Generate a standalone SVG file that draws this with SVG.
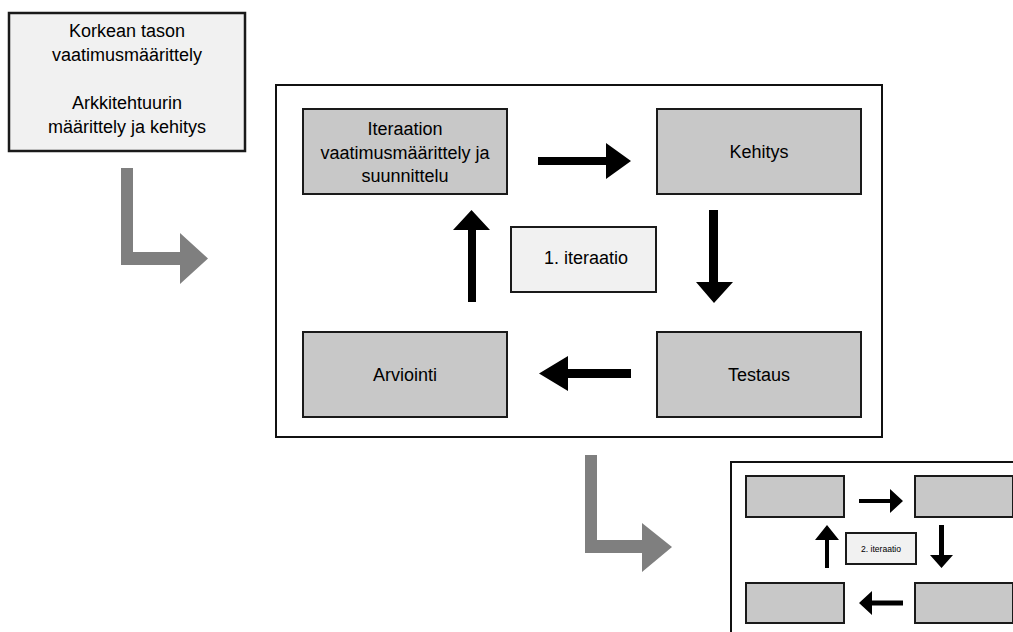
<svg xmlns="http://www.w3.org/2000/svg" width="1013" height="632" viewBox="0 0 1013 632">
  <style>
    .t { font-family: "Liberation Sans", Arial, sans-serif; fill: #000; text-anchor: middle; }
    .big { font-size: 18px; }
    .small { font-size: 8.6px; }
    .step { fill: #c8c8c8; stroke: #1a1a1a; stroke-width: 2; }
    .label { fill: #f1f1f1; stroke: #1a1a1a; stroke-width: 2; }
    .frame { fill: #ffffff; stroke: #111; stroke-width: 2; }
    .flow { fill: #000; }
    .bend { fill: #7f7f7f; }
  </style>

  <!-- overall phase box -->
  <g id="high-level">
    <rect x="9" y="13" width="236" height="138" fill="#f1f1f1" stroke="#1a1a1a" stroke-width="2.5"/>
    <text class="t big" x="127" y="37">Korkean tason</text>
    <text class="t big" x="127" y="61">vaatimusmäärittely</text>
    <text class="t big" x="127" y="109">Arkkitehtuurin</text>
    <text class="t big" x="127" y="133">määrittely ja kehitys</text>
  </g>

  <!-- first iteration frame -->
  <g id="iteration-1">
    <rect class="frame" x="276" y="85" width="606" height="352"/>
  </g>
  <g id="i1-requirements">
    <rect class="step" x="303" y="109" width="204" height="85"/>
    <text class="t big" x="405" y="135">Iteraation</text>
    <text class="t big" x="405" y="159">vaatimusmäärittely ja</text>
    <text class="t big" x="405" y="182">suunnittelu</text>
  </g>
  <g id="i1-development">
    <rect class="step" x="657" y="109" width="204" height="85"/>
    <text class="t big" x="759" y="158">Kehitys</text>
  </g>
  <g id="i1-testing">
    <rect class="step" x="657" y="332" width="204" height="85"/>
    <text class="t big" x="759" y="381">Testaus</text>
  </g>
  <g id="i1-evaluation">
    <rect class="step" x="303" y="332" width="204" height="85"/>
    <text class="t big" x="405" y="381">Arviointi</text>
  </g>
  <g id="i1-label">
    <rect class="label" x="511" y="227" width="145" height="65"/>
    <text class="t big" x="586" y="264">1. iteraatio</text>
  </g>

  <!-- second iteration frame (continues past the edge) -->
  <g id="iteration-2">
    <rect class="frame" x="731" y="462" width="300" height="190"/>
  </g>
  <g id="i2-requirements">
    <rect class="step" x="746" y="476" width="98" height="41"/>
  </g>
  <g id="i2-development">
    <rect class="step" x="915" y="476" width="98" height="41"/>
  </g>
  <g id="i2-testing">
    <rect class="step" x="915" y="583" width="98" height="40"/>
  </g>
  <g id="i2-evaluation">
    <rect class="step" x="746" y="583" width="98" height="40"/>
  </g>
  <g id="i2-label">
    <rect class="label" x="846" y="533" width="70" height="31" stroke-width="1.2"/>
    <text class="t small" x="881" y="552">2. iteraatio</text>
  </g>

  <!-- connectors -->
  <g id="connectors">
    <!-- phase transitions -->
    <path class="bend" d="M121,168 H133 V252 H180 V233 L208,258.5 L180,284 V265 H121 Z"/>
    <path class="bend" d="M585,455 H597 V540 H642 V523 L672,547 L642,572 V553 H585 Z"/>

    <!-- first iteration cycle -->
    <path class="flow" d="M538,157 H606 V143 L631,161 L606,179 V165 H538 Z"/>
    <path class="flow" d="M709,210 H718 V282 H733 L714,303 L696,282 H709 Z"/>
    <path class="flow" d="M631,369 H568 V356 L539,373.5 L568,391 V378 H631 Z"/>
    <path class="flow" d="M468,302 V230 H453 L471.5,210 L490,230 H476 V302 Z"/>

    <!-- second iteration cycle -->
    <path class="flow" d="M859,499 H890 V489 L903,501 L890,513 V503 H859 Z"/>
    <path class="flow" d="M939,525 H944 V555 H953 L941.5,568 L930,555 H939 Z"/>
    <path class="flow" d="M903,600.5 H872 V591 L859,603 L872,615 V605.5 H903 Z"/>
    <path class="flow" d="M825,568 V540 H815 L827,525 L839,540 H829 V568 Z"/>
  </g>
</svg>
